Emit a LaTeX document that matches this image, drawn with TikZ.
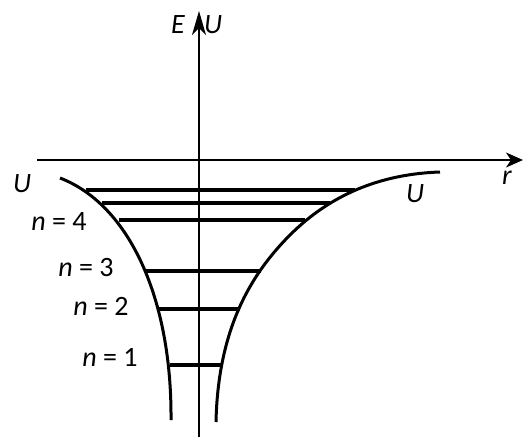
\documentclass[tikz,border=0pt]{standalone}
\usepackage{fontspec}
\setmainfont{Carlito}
\usetikzlibrary{arrows.meta}
\begin{document}
\begin{tikzpicture}[x=1pt,y=-1pt,
  axis/.style={line width=2pt},
  well/.style={line width=3pt},
  level/.style={line width=3.2pt},
  lbl/.style={font=\fontsize{28}{32}\selectfont,inner sep=0pt}]
\useasboundingbox (0,0) rectangle (523,437);
% axes
\coordinate (yb) at (199,437);
\coordinate (yt) at (199,11);
\coordinate (xl) at (37,160);
\coordinate (xr) at (523,160);
\draw[axis,-{Stealth[length=24pt,width=14pt,inset=7pt]}] (yb) -- (yt);
\draw[axis,-{Stealth[length=17pt,width=15pt,inset=5pt]}] (xl) -- (xr);
% potential curves
\draw[well] (60,178) .. controls (130,205) and (172,300) .. (171,420);
\draw[well] (440,172) .. controls (380,174) and (330,195) .. (290,235)
            .. controls (250,275) and (218,330) .. (216,422);
% levels
\coordinate (a1) at (86,190);  \coordinate (b1) at (355,190);
\coordinate (a2) at (102,203); \coordinate (b2) at (330,203);
\coordinate (a3) at (119,220); \coordinate (b3) at (305,220);
\coordinate (a4) at (146,271); \coordinate (b4) at (261,271);
\coordinate (a5) at (159,309); \coordinate (b5) at (240,309);
\coordinate (a6) at (170,365); \coordinate (b6) at (222,365);
\foreach \i in {1,...,6} \draw[level] (a\i) -- (b\i);
% labels
\node[lbl] (E) at (178,25) {\textit{E}};
\node[lbl] (Uy) at (213,25) {\textit{U}};
\node[lbl] (r) at (507,178) {\textit{r}};
\node[lbl] (Ul) at (22,184) {\textit{U}};
\node[lbl] (Ur) at (415,194) {\textit{U}};
\node[lbl] (n4) at (59,222) {\textit{n} = 4};
\node[lbl] (n3) at (86,268) {\textit{n} = 3};
\node[lbl] (n2) at (101,306) {\textit{n} = 2};
\node[lbl] (n1) at (110,357) {\textit{n} = 1};
\end{tikzpicture}
\end{document}
